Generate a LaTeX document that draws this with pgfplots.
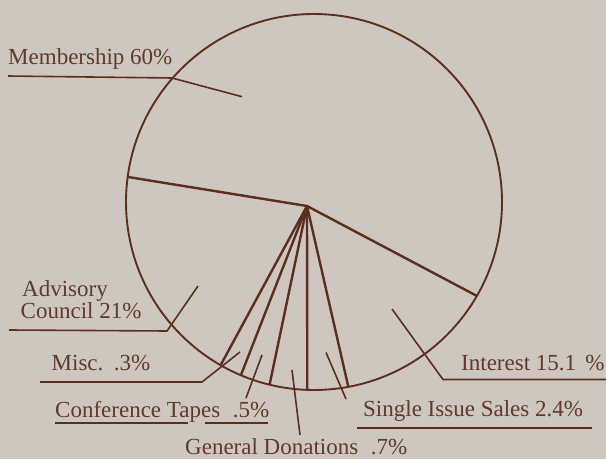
\documentclass[border=0pt]{standalone}
\usepackage{fontspec}
\setmainfont{Liberation Serif}
\usepackage{pgfplots}
\pgfplotsset{compat=1.18}
\definecolor{bgcol}{RGB}{206,199,191}
\definecolor{linecol}{RGB}{92,46,30}
\definecolor{textcol}{RGB}{96,58,42}
\tikzset{lbl/.style={font=\fontsize{23}{27}\selectfont, text=textcol, inner sep=0pt, anchor=base west}}
\begin{document}
\begin{tikzpicture}
\fill[bgcol] (0,0) rectangle (606pt,459pt);
\begin{axis}[
  x=1pt, y=1pt, scale only axis,
  xmin=0, xmax=606, ymin=0, ymax=459,
  axis line style={draw=none}, ticks=none,
  clip=false,
]
% pie outline
\draw[linecol, line width=1.9pt] (axis cs:314,257) circle[radius=188];
% wedge boundaries (from apex)
\addplot[linecol, line width=2.4pt] coordinates {(128,282) (307,253) (477,163)};
\addplot[linecol, line width=2.4pt] coordinates {(307,253) (220.6,93.8)};
\addplot[linecol, line width=2.4pt] coordinates {(307,253) (240.9,83.8)};
\addplot[linecol, line width=2.4pt] coordinates {(307,253) (269.6,74.3)};
\addplot[linecol, line width=2.4pt] coordinates {(307,253) (307.3,69)};
\addplot[linecol, line width=2.4pt] coordinates {(307,253) (348.3,72.3)};
% leader lines
\addplot[linecol, line width=1.6pt] coordinates {(242,362.3) (172,381) (8,383)};
\addplot[linecol, line width=1.6pt] coordinates {(198,173) (167,128) (9,129)};
\addplot[linecol, line width=1.6pt] coordinates {(240,107) (202,77) (40,77)};
\addplot[linecol, line width=1.6pt] coordinates {(262,104) (246,61)};
\addplot[linecol, line width=1.6pt] coordinates {(292,89) (300,24)};
\addplot[linecol, line width=1.6pt] coordinates {(326,106.5) (346,60)};
\addplot[linecol, line width=1.6pt] coordinates {(392,150) (443,79.5) (610,79.5)};
% underlines
\addplot[linecol, line width=1.6pt] coordinates {(55,36) (188,36)};
\addplot[linecol, line width=1.6pt] coordinates {(205,36) (268,36)};
\addplot[linecol, line width=1.6pt] coordinates {(357,31) (592,31)};
% labels
\node[lbl] at (axis cs:8,394.7) {Membership 60\%};
\node[lbl] at (axis cs:22,162.3) {Advisory};
\node[lbl] at (axis cs:20.5,141) {Council 21\%};
\node[lbl] at (axis cs:51.5,89) {Misc.\hspace{0.45em}.3\%};
\node[lbl] at (axis cs:55,41.7) {Conference Tapes\hspace{0.55em}.5\%};
\node[lbl] at (axis cs:185,5) {General Donations\hspace{0.55em}.7\%};
\node[lbl] at (axis cs:363,43) {Single Issue Sales 2.4\%};
\node[lbl] at (axis cs:461,89) {Interest 15.1\hspace{0.4em}\%};
\end{axis}
\pgfresetboundingbox
\path[use as bounding box] (0,0) rectangle (606pt,459pt);
\end{tikzpicture}
\end{document}
